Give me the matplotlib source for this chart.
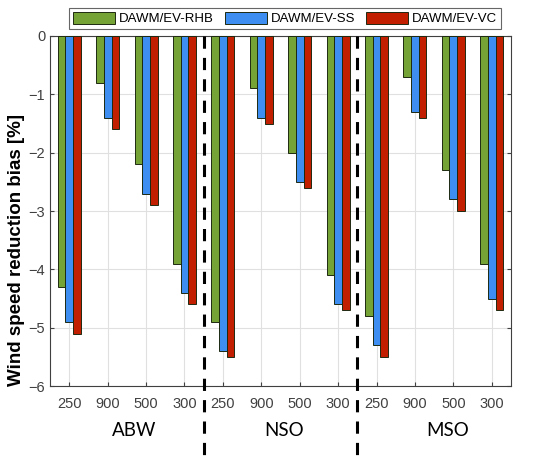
import matplotlib
matplotlib.use('Agg')
import matplotlib.pyplot as plt
import matplotlib.transforms as mtransforms
import numpy as np

plt.rcParams['font.family'] = ['Liberation Sans', 'DejaVu Sans']

heights = ['250', '900', '500', '300'] * 3
sites = ['ABW', 'NSO', 'MSO']
rhb = [-4.3, -0.8, -2.2, -3.9, -4.9, -0.9, -2.0, -4.1, -4.8, -0.7, -2.3, -3.9]
ss = [-4.9, -1.4, -2.7, -4.4, -5.4, -1.4, -2.5, -4.6, -5.3, -1.3, -2.8, -4.5]
vc = [-5.1, -1.6, -2.9, -4.6, -5.5, -1.5, -2.6, -4.7, -5.5, -1.4, -3.0, -4.7]
labels = ['DAWM/EV-RHB', 'DAWM/EV-SS', 'DAWM/EV-VC']
colors = ['#76a336', '#3d8ef0', '#c21e00']

x = np.arange(1, len(heights) + 1)
w = 0.2

fig = plt.figure(figsize=(5.5, 4.67), dpi=100)
ax = fig.add_axes([0.091, 0.173, 0.838, 0.750])

for i, (vals, lab, c) in enumerate(zip([rhb, ss, vc], labels, colors)):
    ax.bar(x + (i - 1) * w, vals, width=w, color=c, edgecolor='#1e2a10',
           linewidth=0.7, label=lab, zorder=3)

ax.set_xlim(0.5, 12.5)
ax.set_ylim(-6, 0)
ax.set_xticks(x)
ax.set_xticklabels(heights)
ax.set_yticks(np.arange(-6, 1, 1))
ax.tick_params(direction='in', labelsize=10.5, colors='#404040', length=3,
               top=False, right=True)
ax.tick_params(axis='x', pad=8)
ax.grid(True, color='#e0e0e0', linewidth=0.8, zorder=0)
for s in ax.spines.values():
    s.set_color('#404040')
    s.set_linewidth(0.8)

ax.set_ylabel('Wind speed reduction bias [%]', fontsize=13.5, fontweight='bold')
ax.yaxis.set_label_coords(-0.054, 0.39)

trans = mtransforms.blended_transform_factory(ax.transData, ax.transAxes)
for xd in [4.5, 8.5]:
    ax.plot([xd, xd], [1.0, -0.197], transform=trans, color='black',
            linestyle=(0, (4, 3)), linewidth=2.2, clip_on=False, zorder=5)

for xs, name in zip([2.7, 6.6, 10.85], sites):
    ax.text(xs, -0.126, name, transform=trans, ha='center', va='center',
            fontsize=13.5, family=['Lato', 'DejaVu Sans'])

leg = ax.legend(loc='upper center', bbox_to_anchor=(0.51, 1.08), ncol=3,
                fontsize=9.5, frameon=True, fancybox=False, edgecolor='#404040',
                handlelength=3.2, handleheight=1.0, columnspacing=0.8,
                handletextpad=0.3, borderpad=0.3, borderaxespad=0)
leg.get_frame().set_linewidth(0.8)

fig.savefig('out.png', dpi=100)
